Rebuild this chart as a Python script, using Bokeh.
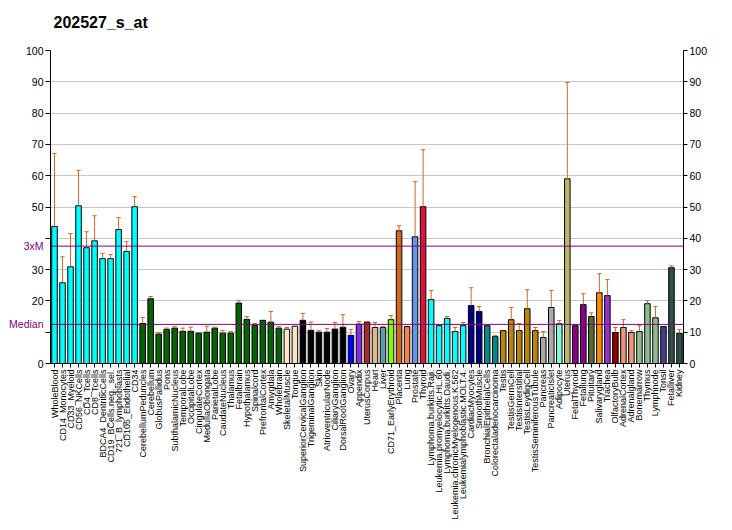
import math
from bokeh.plotting import figure
from bokeh.models import (Range1d, LinearAxis, FixedTicker, Span, Label,
                          ColumnDataSource)
from bokeh.embed import file_html
from bokeh.resources import INLINE

title = "202527_s_at"

names = ["WholeBlood", "CD14_Monocytes", "CD33_Myeloid", "CD56_NKCells", "CD4_Tcells",
         "CD8_Tcells", "BDCA4_DentriticCells", "CD19_BCells.neg._sel.", "721_B_lymphoblasts",
         "CD105_Endothelial", "CD34", "CerebellumPeduncles", "Cerebellum", "GlobusPallidus",
         "Pons", "SubthalamicNucleus", "TemporalLobe", "OccipitalLobe", "CingulateCortex",
         "MedullaOblongata", "ParietalLobe", "CaudateNucleus", "Thalamus", "Fetalbrain",
         "Hypothalamus", "Spinalcord", "PrefrontalCortex", "Amygdala", "Wholebrain",
         "SkeletalMuscle", "Tongue", "SuperiorCervicalGanglion", "TrigeminalGanglion", "Skin",
         "AtrioventricularNode", "CiliaryGanglion", "DorsalRootGanglion", "Ovary", "Appendix",
         "UterusCorpus", "Heart", "Liver", "CD71_EarlyErythroid", "Placenta", "Lung",
         "Prostate", "Thyroid", "Lymphoma.burkitts.Raji.", "Leukemia.promyelocytic.HL.60",
         "Lymphoma.burkitts.Daudi.", "Leukemia.chronicMyelogenous.K.562",
         "Leukemialymphoblastic.MOLT.4.", "CardiacMyocytes", "SmoothMuscle",
         "BronchialEpithelialCells", "Colorectaladenocarcinoma", "Testis", "TestisGermCell",
         "TestisInterstitial", "TestisLeydigCell", "TestisSeminiferousTubule", "Pancreas",
         "PancreaticIslet", "Adipocyte", "Uterus", "FetalThyroid", "Fetallung", "Pituitary",
         "Salivarygland", "Trachea", "OlfactoryBulb", "AdrenalCortex", "Adrenalgland",
         "Bonemarrow", "Thymus", "Lymphnode", "Tonsil", "Fetalliver", "Kidney"]

values = [43.8, 25.8, 30.9, 50.4, 37.0, 39.2, 33.5, 33.5, 42.8, 35.8,
          50.1, 12.8, 20.7, 9.4, 10.9, 11.3, 10.3, 10.3, 9.7, 10.0,
          11.3, 9.7, 9.7, 19.3, 14.1, 12.2, 13.8, 13.2, 11.3, 11.0,
          11.9, 13.8, 10.6, 10.0, 10.0, 11.0, 11.6, 9.0, 12.6, 13.2,
          11.5, 11.5, 14.0, 42.4, 11.8, 40.5, 50.1, 20.4, 12.1, 14.4,
          10.2, 12.1, 18.5, 16.6, 12.1, 8.6, 10.5, 14.0, 10.5, 17.5,
          10.5, 8.3, 17.9, 12.7, 59.0, 12.1, 18.8, 15.0, 22.6, 21.7,
          9.9, 11.5, 9.9, 10.2, 19.1, 14.6, 11.8, 30.6, 9.6]

NA = float("nan")
upper = [67.1, 34.1, 41.5, 61.7, 42.1, 47.2, 35.2, 34.8, 46.6, 38.9,
         53.3, 14.7, 21.4, 9.9, 11.3, 11.9, 11.3, 11.6, NA, 11.9,
         11.6, 10.5, 10.2, 20.1, 15.0, 12.8, NA, 16.6, 11.8, 11.5,
         NA, 16.0, 13.2, 10.5, 11.2, 13.1, 15.6, 10.9, 13.4, 13.4,
         13.1, 11.8, 15.3, 44.0, NA, 58.1, 68.3, 23.3, NA, 15.0,
         11.5, 13.1, 24.2, 18.2, NA, 8.9, NA, 17.9, 12.8, 23.6,
         11.5, 10.2, 23.3, 13.7, 89.8, NA, 22.3, 16.2, 28.7, 26.8,
         11.5, 14.0, 10.5, 12.1, 20.1, 18.2, NA, 31.2, 10.8]

colors = (["#00FFFF"] * 11 + ["#006400"] * 18 + ["#FFE4C4"] * 2 + ["#000000"] * 6 +
          ["#0000FF", "#8A2BE2", "#A52A2A", "#DEB887", "#5F9EA0", "#7FFF00", "#D2691E",
           "#FF7F50", "#6495ED", "#DC143C"] +
          ["#00FFFF"] * 5 + ["#00008B"] * 2 + ["#008B8B"] * 2 + ["#B8860B"] * 5 +
          ["#A9A9A9"] * 2 + ["#7FFFD4", "#BDB76B"] + ["#8B008B"] * 2 +
          ["#556B2F", "#FF8C00", "#9932CC", "#8B0000"] + ["#E9967A"] * 2 +
          ["#8FBC8F"] * 3 + ["#483D8B"] + ["#2F4F4F"] * 2)

median = 12.5
y_ticks = [0, 10, 20, 30, 40, 50, 60, 70, 80, 90, 100]

xs = list(range(1, len(names) + 1))

p = figure(output_backend="svg", toolbar_location=None, title_location=None,
           frame_width=633, frame_height=313,
           min_border_left=50, min_border_right=41, min_border_top=50,
           min_border_bottom=158,
           x_range=Range1d(0.5, len(names) + 0.5), y_range=Range1d(0, 100))
p.outline_line_color = None
p.background_fill_color = "white"
p.border_fill_color = "white"

# grid
p.xgrid.visible = False
p.ygrid.ticker = FixedTicker(ticks=y_ticks)
p.ygrid.grid_line_color = "#C8C8C8"
p.ygrid.grid_line_width = 1

# x axis
xa = p.xaxis[0]
xa.ticker = FixedTicker(ticks=xs)
xa.major_label_overrides = {x: n for x, n in zip(xs, names)}
xa.major_label_orientation = math.pi / 2
xa.major_label_text_font = "Liberation Sans"
xa.major_label_text_font_size = "9px"
xa.major_label_text_color = "black"
xa.major_label_standoff = 2
xa.major_tick_out = 4
xa.major_tick_in = 0
xa.minor_tick_line_color = None
xa.axis_line_color = "black"
xa.major_tick_line_color = "black"

# left y axis
ya = p.yaxis[0]
ya.ticker = FixedTicker(ticks=y_ticks)
ya.major_label_overrides = {10: "", 40: ""}
ya.major_label_text_font = "Liberation Sans"
ya.major_label_text_font_size = "10.5px"
ya.major_label_text_color = "black"
ya.major_label_standoff = 2
ya.major_tick_out = 5
ya.major_tick_in = 0
ya.minor_tick_line_color = None
ya.axis_line_color = "black"
ya.major_tick_line_color = "black"

# right y axis
yr = LinearAxis(ticker=FixedTicker(ticks=y_ticks))
yr.major_label_text_font = "Liberation Sans"
yr.major_label_text_font_size = "10.5px"
yr.major_label_text_color = "black"
yr.major_label_standoff = 2
yr.major_tick_out = 4
yr.major_tick_in = 0
yr.minor_tick_line_color = None
yr.axis_line_color = "black"
yr.major_tick_line_color = "black"
p.add_layout(yr, "right")

# bars
src = ColumnDataSource(dict(x=xs, top=values, color=colors))
p.vbar(x="x", top="top", bottom=0, width=0.69, fill_color="color",
       line_color="black", line_width=1, source=src)

# error bars (upper only)
ex = [x for x, v, u in zip(xs, values, upper) if u == u and u > v]
ev = [v for x, v, u in zip(xs, values, upper) if u == u and u > v]
eu = [u for x, v, u in zip(xs, values, upper) if u == u and u > v]
err_color = "#C8692D"
p.segment(x0=ex, y0=ev, x1=ex, y1=eu, line_color=err_color, line_width=1)
p.segment(x0=[x - 0.27 for x in ex], y0=eu, x1=[x + 0.27 for x in ex], y1=eu,
          line_color=err_color, line_width=1)

# reference lines
for lvl in (median, 3 * median):
    p.add_layout(Span(location=lvl, dimension="width", line_color="#800080",
                      line_width=1))

# texts outside the frame (rendered from the top panel)
p.add_layout(Label(x=53, y=108.9, x_units="canvas", y_units="data", text=title,
                   text_align="left", text_baseline="alphabetic", text_color="black",
                   text_font="Liberation Sans", text_font_size="16px",
                   text_font_style="bold"), "above")
p.add_layout(Label(x=43, y=3 * median, x_units="canvas", y_units="data", text="3xM",
                   text_align="right", text_baseline="middle", text_color="#800080",
                   text_font="Liberation Sans", text_font_size="10.5px"), "above")
p.add_layout(Label(x=43, y=median, x_units="canvas", y_units="data", text="Median",
                   text_align="right", text_baseline="middle", text_color="#800080",
                   text_font="Liberation Sans", text_font_size="10.5px"), "above")

open("out.html", "w").write(file_html(p, INLINE))
